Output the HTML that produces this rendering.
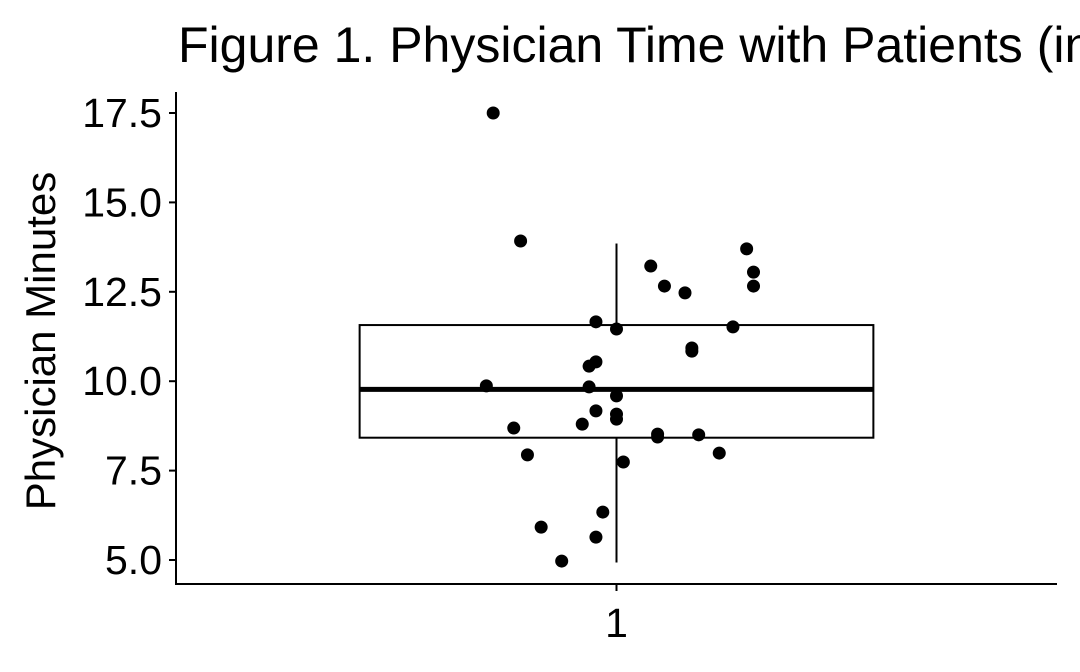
<!DOCTYPE html>
<html><head><meta charset="utf-8"><style>
body{margin:0;background:#fff;overflow:hidden;}
svg text{font-family:"Liberation Sans",Arial,sans-serif;}
</style></head><body>
<svg width="1080" height="667" viewBox="0 0 1080 667" xmlns="http://www.w3.org/2000/svg">
<g id="plot"></g>
</svg>
<script>
const categories=["1"];
const yTicks=[5.0,7.5,10.0,12.5,15.0,17.5];
const yTickLabels=["5.0","7.5","10.0","12.5","15.0","17.5"];
const boxStats={lower:4.93,q1:8.42,median:9.77,q3:11.57,upper:13.85};
const values=[17.5,13.92,13.22,13.70,13.05,12.66,12.66,12.47,11.66,11.46,11.52,10.93,10.84,10.54,10.42,9.87,9.84,9.59,9.17,9.08,8.94,8.80,8.69,8.52,8.44,8.50,7.99,7.94,7.74,6.34,5.92,5.64,4.97];
const jitter=[-0.18,-0.14,0.05,0.19,0.20,0.20,0.07,0.10,-0.03,0,0.17,0.11,0.11,-0.03,-0.04,-0.19,-0.04,0,-0.03,0,0,-0.05,-0.15,0.06,0.06,0.12,0.15,-0.13,0.01,-0.02,-0.11,-0.03,-0.08];

const NS="http://www.w3.org/2000/svg";
const g=document.getElementById('plot');
const L=176,R=1057,T=92,B=584;
const y=v=>560-(v-5)*(560-113)/12.5;
const unit=685;
const x=(i,off)=>L+(R-L)*(i+0.5)/categories.length+off*unit;
function mk(tag,attrs,name){const e=document.createElementNS(NS,tag);for(const k in attrs)e.setAttribute(k,attrs[k]);


g.appendChild(e);return e;}

const t=mk('text',{x:178,y:62,'font-size':50,fill:'#000'},'chart-title');t.textContent='Figure 1. Physician Time with Patients (in minutes)';
const yt=mk('text',{x:0,y:0,'font-size':42,'text-anchor':'middle',transform:'translate(55,341) rotate(-90)'},'y-axis-title');yt.textContent='Physician Minutes';

categories.forEach((c,i)=>{
 const cx=x(i,0),hw=0.375*unit;
 mk('line',{x1:cx,x2:cx,y1:y(boxStats.q3),y2:y(boxStats.upper),stroke:'#000','stroke-width':2},'upper-whisker');
 mk('line',{x1:cx,x2:cx,y1:y(boxStats.q1),y2:y(boxStats.lower),stroke:'#000','stroke-width':2},'lower-whisker');
 mk('rect',{x:cx-hw,y:y(boxStats.q3),width:2*hw,height:y(boxStats.q1)-y(boxStats.q3),fill:'#fff',stroke:'#000','stroke-width':2},'box');
 mk('line',{x1:cx-hw,x2:cx+hw,y1:y(boxStats.median),y2:y(boxStats.median),stroke:'#000','stroke-width':5},'median-line');
 const xl=mk('text',{x:cx,y:B+53,'font-size':41,'text-anchor':'middle'},'x-tick-label');xl.textContent=c;
 mk('line',{x1:cx,x2:cx,y1:B,y2:B+7,stroke:'#000','stroke-width':2},'x-tick');
});
values.forEach((v,k)=>{mk('circle',{cx:x(0,jitter[k]),cy:y(v),r:6.5,fill:'#000'},'data-point');});

mk('line',{x1:L,x2:L,y1:T,y2:B+1,stroke:'#000','stroke-width':2},'y-axis-line');
mk('line',{x1:L-1,x2:R,y1:B,y2:B,stroke:'#000','stroke-width':2},'x-axis-line');
yTicks.forEach((v,k)=>{
 mk('line',{x1:L-7,x2:L,y1:y(v),y2:y(v),stroke:'#000','stroke-width':2},'y-tick');
 const tl=mk('text',{x:L-14,y:y(v)+14,'font-size':41,'text-anchor':'end'},'y-tick-label');tl.textContent=yTickLabels[k];
});
</script>
</body></html>
